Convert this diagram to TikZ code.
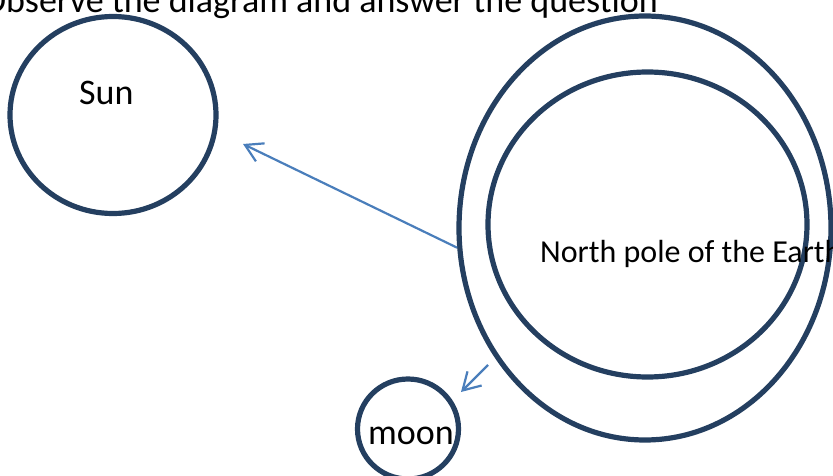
\documentclass[tikz,border=0pt]{standalone}
\usepackage{fontspec}
\setmainfont{Carlito}
\usetikzlibrary{shapes.geometric,arrows.meta}
\definecolor{ringblue}{HTML}{243F60}
\definecolor{arrowblue}{HTML}{4A7EBB}
\tikzset{
  body/.style={ellipse, draw=ringblue, line width=5.2pt, inner sep=0pt},
  label/.style={inner sep=0pt, font=\fontsize{36}{40}\selectfont},
  pointer/.style={arrowblue, line width=2.2pt, -{Straight Barb[length=17pt, width=20pt, line width=2.2pt]}}
}
\begin{document}
\begin{tikzpicture}[x=1pt, y=-1pt]
    \useasboundingbox (0,0) rectangle (833,476);
    \clip (0,0) rectangle (833,476);

    % Question text, cut off at the top
    \node[label, anchor=base east] (question) at (658,13) {Observe the diagram and answer the question};

    % Sun
    \node[body, minimum width=206pt, minimum height=197pt] (sun) at (113,115) {};
    \node[label, anchor=base west] (sunlabel) at (79,105) {Sun};

    % Earth and its north pole
    \node[body, minimum width=372pt, minimum height=424pt] (earth) at (645,228) {};
    \node[body, minimum width=319pt, minimum height=305pt] (pole) at (647.5,224.5) {};
    \node[label, anchor=base west, font=\fontsize{32}{36}\selectfont] (polelabel) at (540,262) {North pole of the Earth};

    % Moon
    \node[body, minimum width=101pt, minimum height=100pt] (moon) at (408,429) {};
    \node[label, anchor=base west] (moonlabel) at (368,444) {moon};

    % Arrows
    \coordinate (suntip) at (243,144);
    \coordinate (moontail) at (488,365);
    \coordinate (moontip) at (461,392);
    \draw[pointer] (earth.186) -- (suntip);
    \draw[pointer] (moontail) -- (moontip);
\end{tikzpicture}
\end{document}
